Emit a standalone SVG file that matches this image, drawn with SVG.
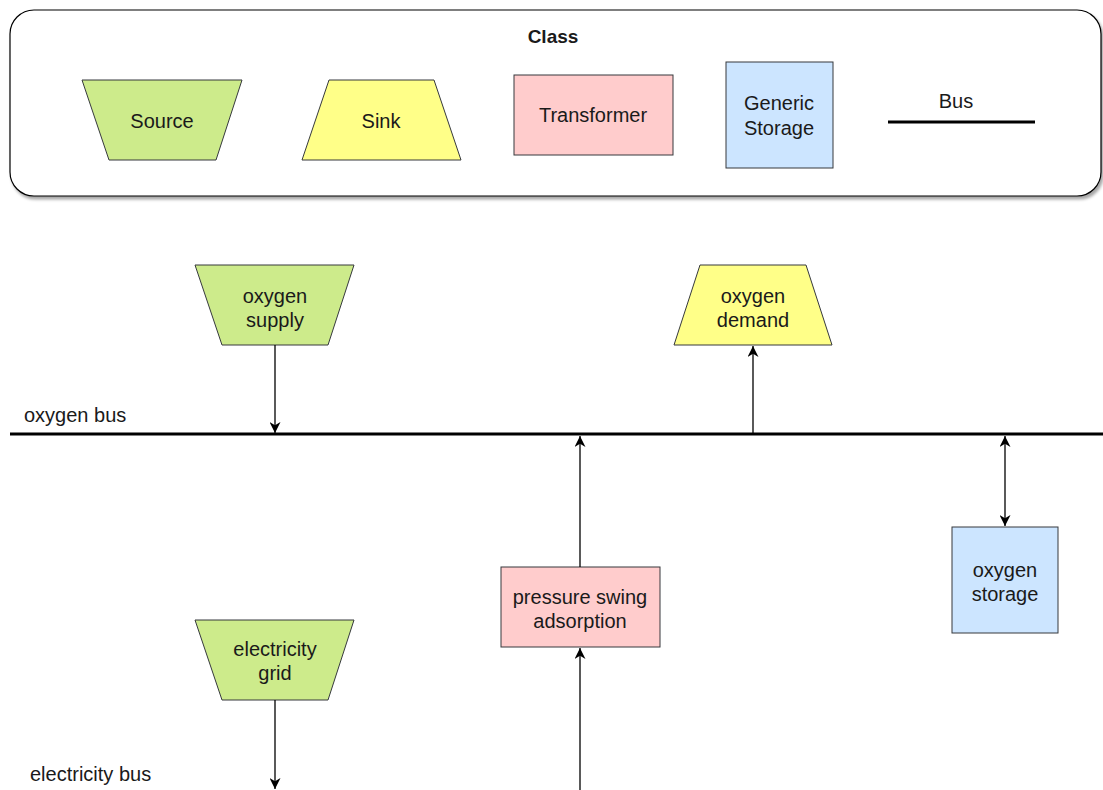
<svg xmlns="http://www.w3.org/2000/svg" width="1103" height="790" viewBox="0 0 1103 790">
<defs>
<marker id="arr" viewBox="0 0 10 10" refX="10" refY="5" markerWidth="11" markerHeight="11" markerUnits="userSpaceOnUse" orient="auto-start-reverse">
<path d="M0,0 L10,5 L0,10 L3,5 Z" fill="#000"/>
</marker>
<filter id="sh" x="-5%" y="-5%" width="110%" height="120%">
<feDropShadow dx="2" dy="3" stdDeviation="1.5" flood-color="#000" flood-opacity="0.35"/>
</filter>
</defs>
<style>
text{font-family:"Liberation Sans",Arial,sans-serif;font-size:20px;fill:#1a1a1a}
.c{text-anchor:middle}
.src{fill:#cdeb8b;stroke:#36393d;stroke-width:1}
.snk{fill:#ffff88;stroke:#36393d;stroke-width:1}
.trf{fill:#ffcccc;stroke:#36393d;stroke-width:1}
.sto{fill:#cce5ff;stroke:#36393d;stroke-width:1}
.bus{stroke:#000;stroke-width:3}
.e{stroke:#000;stroke-width:1.3;fill:none}
</style>
<rect width="1103" height="790" fill="#fff"/>
<g id="legend">
<rect x="10" y="10" width="1091" height="186" rx="24" ry="24" fill="#fff" stroke="#000" stroke-width="1.2" filter="url(#sh)"/>
<text class="c" x="553" y="43" style="font-weight:bold;font-size:19px">Class</text>
<g id="legend-source"><polygon class="src" points="82,80 242,80 216,160 109,160"/><text class="c" x="162" y="128">Source</text></g>
<g id="legend-sink"><polygon class="snk" points="329,80 434,80 461,160 302,160"/><text class="c" x="381" y="128">Sink</text></g>
<g id="legend-transformer"><rect class="trf" x="514" y="75" width="159" height="80"/><text class="c" x="593" y="122">Transformer</text></g>
<g id="legend-storage"><rect class="sto" x="726" y="62" width="107" height="106"/><text class="c" x="779" y="110">Generic</text><text class="c" x="779" y="135">Storage</text></g>
<g id="legend-bus"><line class="bus" x1="888" y1="122" x2="1035" y2="122"/><text class="c" x="956" y="108">Bus</text></g>
</g>
<g id="oxygen-bus"><line class="bus" x1="10" y1="434" x2="1103" y2="434"/><text x="24" y="422">oxygen bus</text></g>
<g id="electricity-bus"><text x="30" y="781">electricity bus</text></g>
<g id="oxygen-supply"><polygon class="src" points="195,265 354,265 328,345 222,345"/><text class="c" x="275" y="303">oxygen</text><text class="c" x="275" y="327">supply</text></g>
<g id="oxygen-demand"><polygon class="snk" points="700,265 806,265 832,345 674,345"/><text class="c" x="753" y="303">oxygen</text><text class="c" x="753" y="327">demand</text></g>
<g id="pressure-swing-adsorption"><rect class="trf" x="501" y="567" width="159" height="80"/><text class="c" x="580" y="604">pressure swing</text><text class="c" x="580" y="628">adsorption</text></g>
<g id="oxygen-storage"><rect class="sto" x="952" y="527" width="106" height="106"/><text class="c" x="1005" y="577">oxygen</text><text class="c" x="1005" y="601">storage</text></g>
<g id="electricity-grid"><polygon class="src" points="195,620 354,620 328,700 222,700"/><text class="c" x="275" y="656">electricity</text><text class="c" x="275" y="680">grid</text></g>
<g id="connectors">
<line class="e" x1="275" y1="345" x2="275" y2="433" marker-end="url(#arr)"/>
<line class="e" x1="580" y1="567" x2="580" y2="436" marker-end="url(#arr)"/>
<line class="e" x1="753" y1="434" x2="753" y2="346" marker-end="url(#arr)"/>
<line class="e" x1="1005" y1="436" x2="1005" y2="526" marker-start="url(#arr)" marker-end="url(#arr)"/>
<line class="e" x1="275" y1="700" x2="275" y2="789" marker-end="url(#arr)"/>
<line class="e" x1="580" y1="790" x2="580" y2="648" marker-end="url(#arr)"/>
</g>
</svg>
